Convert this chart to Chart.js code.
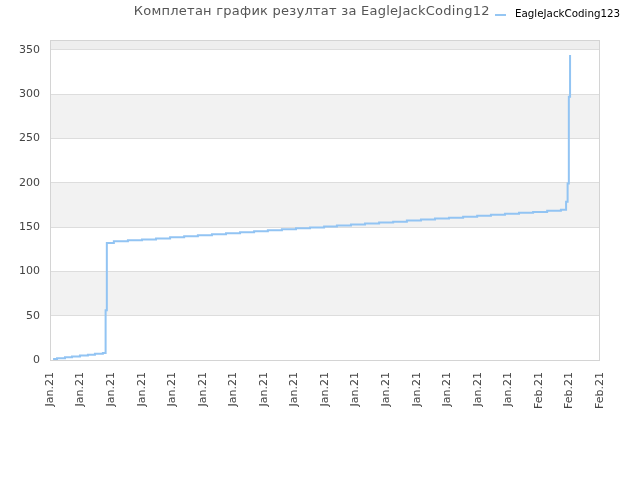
<!DOCTYPE html>
<html>
<head>
<meta charset="utf-8">
<script src="https://cdn.jsdelivr.net/npm/chart.js@4/dist/chart.umd.min.js"></script>
<style>
  body { margin: 0; background: #fff; }
</style>
</head>
<body>
<canvas id="chart" width="640" height="480"></canvas>
<script>
// title + legend text
const chartTitle = "Комплетан график резултат за EagleJackCoding123";
const seriesName = "EagleJackCoding123";

// x axis labels (one per tick, 0..18)
const xLabels = [
  "Jan.21", "Jan.21", "Jan.21", "Jan.21", "Jan.21", "Jan.21", "Jan.21",
  "Jan.21", "Jan.21", "Jan.21", "Jan.21", "Jan.21", "Jan.21", "Jan.21",
  "Jan.21", "Jan.21", "Feb.21", "Feb.21", "Feb.21",
];

// y axis ticks
const yTicks = [0, 50, 100, 150, 200, 250, 300, 350];
const yMax = 361;

// score over time (time in x-tick units)
const pointTimes = [
  0.10, 0.23, 0.49, 0.72, 0.98, 1.24, 1.47, 1.73, 1.82, 1.86,
  2.09, 2.55, 3.01, 3.47, 3.93, 4.39, 4.84, 5.30, 5.76, 6.22,
  6.68, 7.13, 7.59, 8.05, 8.51, 8.97, 9.39, 9.85, 10.31, 10.77,
  11.23, 11.68, 12.14, 12.60, 13.06, 13.52, 13.98, 14.43, 14.89, 15.35,
  15.81, 16.27, 16.72, 16.89, 16.94, 16.98, 17.02,
];
const pointScores = [
  1, 2, 3, 4, 5, 6, 7, 8, 56, 132,
  134, 135, 136, 137, 138.5, 139.6, 140.8, 141.9, 143, 144.1,
  145.3, 146.4, 147.5, 148.6, 149.4, 150.5, 151.6, 152.8, 153.9, 155,
  156.1, 157.3, 158.4, 159.5, 160.5, 161.6, 162.7, 163.8, 165, 166,
  167, 168.3, 169.4, 178.5, 199, 297, 344,
];

const points = pointTimes.map((t, i) => ({ x: t, y: pointScores[i] }));

// background bands, frame, title and legend
const decorPlugin = {
  id: "decor",
  beforeDraw(chart) {
    const { ctx, chartArea: a, scales } = chart;
    ctx.save();
    ctx.fillStyle = "#fff";
    ctx.fillRect(0, 0, chart.width, chart.height);
    const y = scales.y;
    const edges = yTicks.concat([yMax]);
    for (let i = 1; i < edges.length - 1; i += 2) {
      const top = y.getPixelForValue(edges[i + 1]);
      const bot = y.getPixelForValue(edges[i]);
      ctx.fillStyle = i === edges.length - 2 ? "#eeeeee" : "#f2f2f2";
      ctx.fillRect(a.left, top, a.right - a.left, bot - top);
    }
    ctx.restore();
  },
  afterDraw(chart) {
    const { ctx, chartArea: a } = chart;
    ctx.save();
    ctx.strokeStyle = "#d4d4d4";
    ctx.lineWidth = 1;
    ctx.strokeRect(a.left + 0.5, a.top + 0.5, a.right - a.left - 1, a.bottom - a.top);

    // title
    ctx.font = "13px 'DejaVu Sans'";
    ctx.letterSpacing = "0.25px";
    ctx.fillStyle = "#555";
    ctx.textAlign = "center";
    ctx.textBaseline = "middle";
    ctx.fillText(chartTitle, 316, 12);
    ctx.letterSpacing = "0px";

    // legend (sits over the end of the title)
    ctx.fillStyle = "#fff";
    ctx.fillRect(490, 2, 150, 22);
    ctx.strokeStyle = "#95c6f3";
    ctx.lineWidth = 2;
    ctx.beginPath();
    ctx.moveTo(495, 15);
    ctx.lineTo(506, 15);
    ctx.stroke();
    ctx.font = "10.3px 'DejaVu Sans'";
    ctx.fillStyle = "#000";
    ctx.textAlign = "left";
    ctx.fillText(seriesName, 515, 14);
    ctx.restore();
  },
};

new Chart(document.getElementById("chart"), {
  type: "line",
  data: {
    datasets: [
      {
        label: seriesName,
        data: points,
        stepped: true,
        borderColor: "#92c4f3",
        borderWidth: 2,
        pointRadius: 0,
        fill: false,
      },
    ],
  },
  options: {
    responsive: false,
    animation: false,
    layout: { padding: { top: 40, right: 40, left: 0, bottom: 0 } },
    plugins: {
      legend: { display: false },
      title: { display: false },
      tooltip: { enabled: false },
    },
    scales: {
      x: {
        type: "linear",
        min: 0,
        max: xLabels.length - 1,
        afterFit: (s) => { s.height = 120; },
        grid: { display: false },
        border: { display: false },
        ticks: {
          stepSize: 1,
          autoSkip: false,
          minRotation: 90,
          maxRotation: 90,
          padding: 4,
          color: "#444",
          font: { family: "DejaVu Sans", size: 11 },
          callback: (v) => xLabels[v],
        },
      },
      y: {
        min: 0,
        max: yMax,
        afterFit: (s) => { s.width = 50; },
        grid: { color: "#dddddd", drawTicks: false },
        border: { display: false },
        ticks: {
          stepSize: 50,
          includeBounds: false,
          padding: 10,
          color: "#444",
          font: { family: "DejaVu Sans", size: 11 },
        },
      },
    },
  },
  plugins: [decorPlugin],
});
</script>
</body>
</html>
